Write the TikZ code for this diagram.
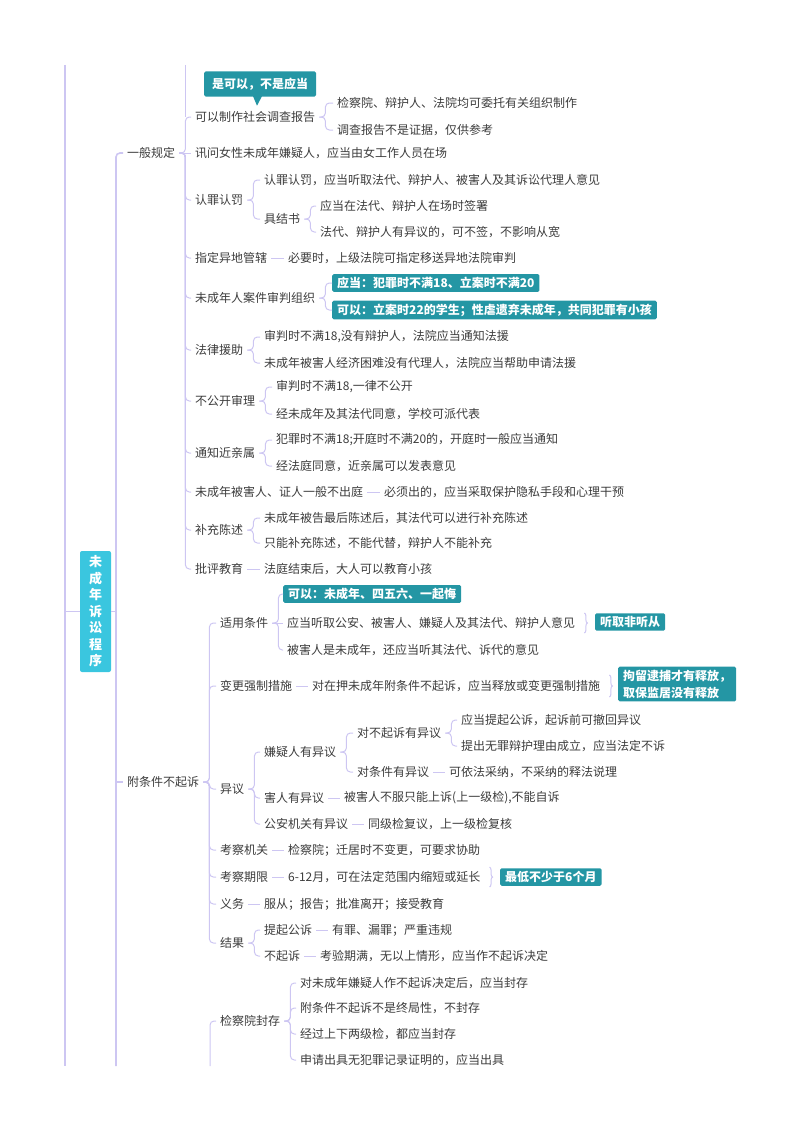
\documentclass[tikz,border=0pt]{standalone}
\usepackage{fontspec}
\setmainfont{Noto Sans CJK SC}
\usetikzlibrary{decorations.pathreplacing}
\definecolor{ink}{HTML}{3C3C3C}
\definecolor{lav}{HTML}{CDC6F2}
\definecolor{tagfill}{HTML}{2496A4}
\definecolor{rootfill}{HTML}{3AC6DF}

\begin{document}
\begin{tikzpicture}[x=1pt, y=-1pt,
    leaf/.style={anchor=west, inner xsep=4pt, inner ysep=1pt, text=ink, font=\fontsize{12}{14}\selectfont},
    tag/.style={anchor=west, fill=tagfill, text=white, rounded corners=1.5pt, inner xsep=5pt, inner ysep=3pt, font=\fontsize{12}{14}\selectfont\bfseries},
    root/.style={fill=rootfill, text=white, rounded corners=2pt, minimum width=31pt, minimum height=121pt, inner sep=0pt, align=center, font=\fontsize{13}{16.5}\selectfont\bfseries},
    link/.style={draw=lav, line width=1pt, rounded corners=4pt},
    trunk/.style={link, line width=1.6pt},
    curly/.style={draw=lav, line width=1pt, decorate, decoration={brace, amplitude=3pt}}]
    \useasboundingbox (0, 0) rectangle (800, 1132);

    \node[root] (r) at (95.5, 611.5) {未\\成\\年\\诉\\讼\\程\\序};
    \node[leaf] (a) at (123, 153) {一般规定};
    \node[leaf] (b) at (123, 782) {附条件不起诉};

    % 一般规定
    \node[leaf] (a1) at (191, 117) {可以制作社会调查报告};
    \node[tag, anchor=center, inner xsep=8pt, minimum height=25pt] (t1) at (260, 84) {是可以，不是应当};
    \node[leaf] (a1a) at (333, 103) {检察院、辩护人、法院均可委托有关组织制作};
    \node[leaf] (a1b) at (333, 130) {调查报告不是证据，仅供参考};
    \node[leaf] (a2) at (191, 153) {讯问女性未成年嫌疑人，应当由女工作人员在场};
    \node[leaf] (a3) at (191, 200) {认罪认罚};
    \node[leaf] (a3a) at (260, 180) {认罪认罚，应当听取法代、辩护人、被害人及其诉讼代理人意见};
    \node[leaf] (a3b) at (260, 219) {具结书};
    \node[leaf] (a3b1) at (316, 206) {应当在法代、辩护人在场时签署};
    \node[leaf] (a3b2) at (316, 232) {法代、辩护人有异议的，可不签，不影响从宽};
    \node[leaf] (a4) at (191, 258) {指定异地管辖};
    \node[leaf] (a4x) at (284, 258) {必要时，上级法院可指定移送异地法院审判};
    \node[leaf] (a5) at (191, 298) {未成年人案件审判组织};
    \node[tag] (t2) at (332, 283) {应当：犯罪时不满18、立案时不满20};
    \node[tag] (t3) at (332, 310) {可以：立案时22的学生；性虐遗弃未成年，共同犯罪有小孩};
    \node[leaf] (a6) at (191, 350) {法律援助};
    \node[leaf] (a6a) at (260, 337) {审判时不满18,没有辩护人，法院应当通知法援};
    \node[leaf] (a6b) at (260, 363) {未成年被害人经济困难没有代理人，法院应当帮助申请法援};
    \node[leaf] (a7) at (191, 401) {不公开审理};
    \node[leaf] (a7a) at (272, 387) {审判时不满18,一律不公开};
    \node[leaf] (a7b) at (272, 414) {经未成年及其法代同意，学校可派代表};
    \node[leaf] (a8) at (191, 453) {通知近亲属};
    \node[leaf] (a8a) at (272, 440) {犯罪时不满18;开庭时不满20的，开庭时一般应当通知};
    \node[leaf] (a8b) at (272, 466) {经法庭同意，近亲属可以发表意见};
    \node[leaf] (a9) at (191, 492) {未成年被害人、证人一般不出庭};
    \node[leaf] (a9x) at (380, 492) {必须出的，应当采取保护隐私手段和心理干预};
    \node[leaf] (a10) at (191, 530) {补充陈述};
    \node[leaf] (a10a) at (260, 518) {未成年被告最后陈述后，其法代可以进行补充陈述};
    \node[leaf] (a10b) at (260, 543) {只能补充陈述，不能代替，辩护人不能补充};
    \node[leaf] (a11) at (191, 569) {批评教育};
    \node[leaf] (a11x) at (260, 569) {法庭结束后，大人可以教育小孩};

    % 附条件不起诉
    \node[leaf] (b1) at (216, 623) {适用条件};
    \node[tag] (t4) at (283, 594) {可以：未成年、四五六、一起悔};
    \node[leaf] (b1b) at (283, 623) {应当听取公安、被害人、嫌疑人及其法代、辩护人意见};
    \node[tag] (t5) at (595, 622) {听取非听从};
    \node[leaf] (b1c) at (283, 650) {被害人是未成年，还应当听其法代、诉代的意见};
    \node[leaf] (b2) at (216, 686) {变更强制措施};
    \node[leaf] (b2x) at (308, 686) {对在押未成年附条件不起诉，应当释放或变更强制措施};
    \node[tag, align=left, font=\fontsize{12}{17}\selectfont\bfseries] (t6) at (618, 684) {拘留逮捕才有释放，\\取保监居没有释放};
    \node[leaf] (b3) at (216, 789) {异议};
    \node[leaf] (b3a) at (260, 752) {嫌疑人有异议};
    \node[leaf] (b3a1) at (353, 733) {对不起诉有异议};
    \node[leaf] (b3a1a) at (457, 720) {应当提起公诉，起诉前可撤回异议};
    \node[leaf] (b3a1b) at (457, 746) {提出无罪辩护理由成立，应当法定不诉};
    \node[leaf] (b3a2) at (353, 772) {对条件有异议};
    \node[leaf] (b3a2x) at (445, 772) {可依法采纳，不采纳的释法说理};
    \node[leaf] (b3b) at (260, 798) {害人有异议};
    \node[leaf] (b3bx) at (340, 798) {被害人不服只能上诉(上一级检),不能自诉};
    \node[leaf] (b3c) at (260, 824) {公安机关有异议};
    \node[leaf] (b3cx) at (364, 824) {同级检复议，上一级检复核};
    \node[leaf] (b4) at (216, 850) {考察机关};
    \node[leaf] (b4x) at (284, 850) {检察院；迁居时不变更，可要求协助};
    \node[leaf] (b5) at (216, 877) {考察期限};
    \node[leaf] (b5x) at (284, 877) {6-12月，可在法定范围内缩短或延长};
    \node[tag] (t7) at (500, 877) {最低不少于6个月};
    \node[leaf] (b6) at (216, 904) {义务};
    \node[leaf] (b6x) at (260, 904) {服从；报告；批准离开；接受教育};
    \node[leaf] (b7) at (216, 943) {结果};
    \node[leaf] (b7a) at (260, 930) {提起公诉};
    \node[leaf] (b7ax) at (328, 930) {有罪、漏罪；严重违规};
    \node[leaf] (b7b) at (260, 956) {不起诉};
    \node[leaf] (b7bx) at (316, 956) {考验期满，无以上情形，应当作不起诉决定};

    % next branch, cut off by the page
    \node[leaf] (c1) at (216, 1021) {检察院封存};
    \node[leaf] (c1a) at (296, 983) {对未成年嫌疑人作不起诉决定后，应当封存};
    \node[leaf] (c1b) at (296, 1008) {附条件不起诉不是终局性，不封存};
    \node[leaf] (c1c) at (296, 1034) {经过上下两级检，都应当封存};
    \node[leaf] (c1d) at (296, 1060) {申请出具无犯罪记录证明的，应当出具};

    % lines running off the page
    \coordinate (l0t) at (65, 65);
    \coordinate (l0b) at (65, 1066);
    \coordinate (l1b) at (116, 1066);
    \coordinate (l2t) at (185, 65);
    \coordinate (l2b) at (210, 1066);
    \draw[trunk] (l0t) -- (l0b);
    \draw[trunk] (r.west) -- (r.west -| l0t);
    \draw[trunk] (r.east) -- (r.east -| l1b);
    \draw[trunk] (l1b) |- (a.west);
    \draw[trunk] (b.west -| l1b) -- (b.west);
    \draw[link] (l2t) -- (l2t |- a1.west);
    \draw[link] (l2b) |- (c1.west);

    \foreach \p/\c in {a/a1, a/a3, a/a4, a/a5, a/a6, a/a7, a/a8, a/a9, a/a10, a/a11,
        a1/a1a, a1/a1b, a3/a3a, a3/a3b, a3b/a3b1, a3b/a3b2, a5/t2, a5/t3,
        a6/a6a, a6/a6b, a7/a7a, a7/a7b, a8/a8a, a8/a8b, a10/a10a, a10/a10b,
        b/b1, b/b2, b/b3, b/b4, b/b5, b/b6, b/b7, b1/t4, b1/b1c,
        b3/b3a, b3/b3b, b3/b3c, b3a/b3a1, b3a/b3a2, b3a1/b3a1a, b3a1/b3a1b,
        b7/b7a, b7/b7b, c1/c1a, c1/c1b, c1/c1c, c1/c1d}
        \draw[link] (\p.east) -- ++(6, 0) |- (\c.west);
    \foreach \p/\c in {a/a2, a4/a4x, a9/a9x, a11/a11x, b1/b1b, b2/b2x, b3a2/b3a2x,
        b3b/b3bx, b3c/b3cx, b4/b4x, b5/b5x, b6/b6x, b7a/b7ax, b7b/b7bx}
        \draw[link] (\p.east) -- (\c.west);

    \fill[tagfill] ([shift={(-7, -0.5)}]t1.south) -- ([shift={(2, -0.5)}]t1.south) -- ([shift={(-3, 9)}]t1.south) -- cycle;
    \draw[curly] ([shift={(5, -10)}]b1b.east) -- ([shift={(5, 10)}]b1b.east);
    \draw[curly] ([shift={(5, -11)}]b2x.east) -- ([shift={(5, 11)}]b2x.east);
    \draw[curly] ([shift={(5, -10)}]b5x.east) -- ([shift={(5, 10)}]b5x.east);
\end{tikzpicture}
\end{document}
